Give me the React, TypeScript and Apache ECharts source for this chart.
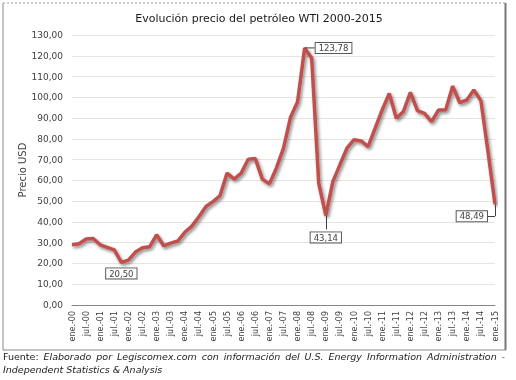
import React, { useEffect, useRef } from "react";
import * as echarts from "echarts";

const years = ["00","01","02","03","04","05","06","07","08","09","10","11","12","13","14","15"];
const months = ["ene.", "abr.", "jul.", "oct."];
const categories: string[] = [];
years.forEach((y) => months.forEach((m) => categories.push(`${m}-${y}`)));
categories.length = 61;

const prices = [
  29, 29.5, 31.8, 32, 29, 27.7, 26.5, 20.5, 21.6, 25.5,
  27.6, 28, 33.8, 28.5, 29.8, 30.8, 35, 38, 42.5, 47.4,
  49.8, 52.7, 63.5, 60.6, 63.5, 70.2, 70.5, 60.6, 58.3, 66,
  75.5, 90.4, 97.9, 123.78, 118.8, 58.6, 43.14, 59.4, 67.5, 75.5,
  79.6, 79, 76.3, 85.1, 93.9, 101.9, 89.9, 93.1, 102.4, 93.6,
  92.3, 88.3, 93.9, 93.9, 105.4, 97.4, 98.7, 103.5, 98.4, 74,
  48.49,
];

const annotated = [7, 33, 36, 60];
const fmt = (v: number) => v.toFixed(2).replace(".", ",");

const titleText = "Evolución precio del petróleo WTI 2000-2015";
const yName = "Precio USD";
const footerLead = "Fuente:";
const footerWords = [
  "Elaborado", "por", "Legiscomex.com", "con", "información", "del", "U.S.", "Energy", "Information", "Administration", "-",
];
const footerLine2 = "Independent Statistics & Analysis";

const FONT = "DejaVu Sans";

export default function App() {
  const ref = useRef<HTMLDivElement>(null);
  useEffect(() => {
    if (!ref.current) return;
    const chart = echarts.init(ref.current, null, { renderer: "svg" });
    const labelCfg: Record<number, any> = {
      7: { position: "bottom", distance: 6 },
      33: { position: "right", distance: 11 },
      36: { position: "bottom", distance: 17 },
      60: { position: "left", distance: 8 },
    };
    const data = prices.map((v, i) => {
      if (!annotated.includes(i)) return v;
      return {
        value: v,
        label: {
          show: true,
          formatter: fmt(v),
          ...labelCfg[i],
        },
        labelLine: { show: i === 33, lineStyle: { color: "#404040", width: 1 } },
      };
    });

    // justify footer line 1 between x=3 and x=505
    const regFont = `9.5px "${FONT}"`;
    const itFont = `italic 9.5px "${FONT}"`;
    const ctx = document.createElement("canvas").getContext("2d")!;
    const words = [{ t: footerLead, f: regFont }, ...footerWords.map((t) => ({ t, f: itFont }))];
    const widths = words.map((w) => {
      ctx.font = w.f;
      return ctx.measureText(w.t).width;
    });
    const total = widths.reduce((a, b) => a + b, 0);
    const gap = (505 - 3 - total) / (words.length - 1);
    let cx = 3;
    const lineOne = words.map((w, i) => {
      const el = {
        type: "text",
        x: cx,
        y: 356.5,
        style: { text: w.t, font: w.f, fill: "#1a1a1a", align: "left", verticalAlign: "middle" },
      };
      cx += widths[i] + gap;
      return el;
    });

    const footerGraphics: any[] = [
      ...lineOne,
      {
        type: "text",
        x: 3,
        y: 369.5,
        style: { text: footerLine2, font: itFont, fill: "#1a1a1a", align: "left", verticalAlign: "middle" },
      },
      { type: "line", shape: { x1: 3, y1: 3, x2: 505, y2: 3 }, style: { stroke: "#9a9a9a", lineWidth: 1, lineDash: [2, 2] } },
      { type: "line", shape: { x1: 3, y1: 3, x2: 3, y2: 350 }, style: { stroke: "#8a8a8a", lineWidth: 1 } },
      { type: "line", shape: { x1: 505.5, y1: 3, x2: 505.5, y2: 350 }, style: { stroke: "#777", lineWidth: 2 } },
      { type: "line", shape: { x1: 3, y1: 350, x2: 506, y2: 350 }, style: { stroke: "#8a8a8a", lineWidth: 1 } },
    ];
    chart.setOption({
      animation: false,
      textStyle: { fontFamily: FONT },
      title: {
        text: titleText,
        left: 254,
        textAlign: "center",
        top: 8,
        textStyle: { fontFamily: FONT, fontSize: 11, fontWeight: "normal", color: "#1a1a1a" },
      },
      grid: { left: 72, right: 21, top: 35, bottom: 75 },
      xAxis: {
        type: "category",
        data: categories,
        boundaryGap: false,
        axisLine: { lineStyle: { color: "#868686", width: 1 } },
        axisTick: { show: false },
        axisLabel: { interval: 1, rotate: 90, fontSize: 8, color: "#404040", margin: 6, fontFamily: FONT },
        splitLine: { show: false },
      },
      yAxis: {
        type: "value",
        min: 0,
        max: 130,
        interval: 10,
        name: yName,
        nameLocation: "middle",
        nameGap: 45,
        nameMoveOverlap: false,
        nameTextStyle: { fontSize: 10, color: "#404040", fontFamily: FONT },
        axisLine: { show: false },
        axisTick: { show: false },
        axisLabel: { formatter: (v: number) => fmt(v), fontSize: 9, color: "#404040", margin: 9, fontFamily: FONT },
        splitLine: { lineStyle: { color: "#e6e4de", width: 1 } },
      },
      series: [
        {
          type: "line",
          data,
          symbol: "circle",
          symbolSize: 0,
          showSymbol: true,
          showAllSymbol: true,
          lineStyle: {
            color: "#c0504d",
            width: 3.5,
            shadowColor: "rgba(0,0,0,0.45)",
            shadowBlur: 3,
            shadowOffsetX: 1.5,
            shadowOffsetY: 2,
          },
          itemStyle: { color: "#c0504d" },
          label: {
            fontSize: 8.5,
            color: "#404040",
            fontFamily: FONT,
            backgroundColor: "#fff",
            borderColor: "#595959",
            borderWidth: 1,
            padding: [1, 3, 0, 3],
          },
          labelLayout: (p: any) => (p.dataIndex === 60 ? { dy: 12 } : {}),
          markLine: {
            silent: true,
            symbol: ["none", "none"],
            label: { show: false },
            lineStyle: { color: "#404040", width: 1, type: "solid" },
            data: [
              [{ coord: [36, 43.14] }, { coord: [36, 36.4] }],
              [{ coord: [60, 48.49] }, { coord: [60, 42.8] }],
              [{ coord: [60, 42.8] }, { coord: [59, 42.8] }],
            ],
          },
          emphasis: { disabled: true },
        },
      ],
      graphic: footerGraphics,
    });
    return () => chart.dispose();
  }, []);
  return <div ref={ref} style={{ position: "fixed", left: 0, top: 0, width: 516, height: 380 }} />;
}
